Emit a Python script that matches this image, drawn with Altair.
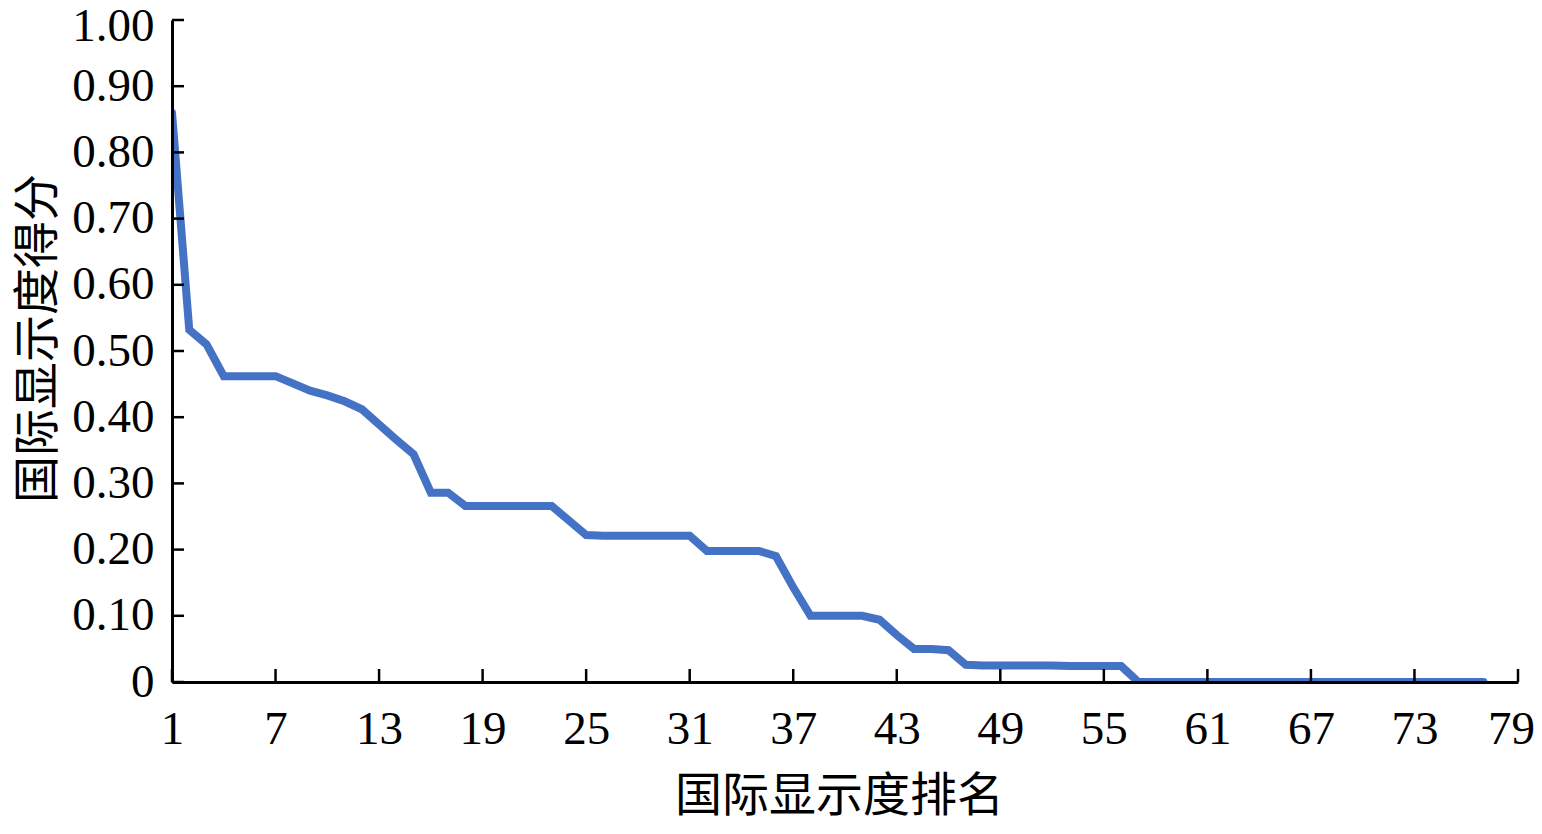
import altair as alt
import pandas as pd

ranks = list(range(1, 78))
scores = [
    0.86, 0.532, 0.51, 0.462, 0.462, 0.462, 0.462, 0.451, 0.44, 0.433,
    0.424, 0.412, 0.389, 0.366, 0.344, 0.286, 0.286, 0.266, 0.266, 0.266,
    0.266, 0.266, 0.266, 0.244, 0.222, 0.221, 0.221, 0.221, 0.221, 0.221,
    0.221, 0.198, 0.198, 0.198, 0.198, 0.19, 0.143, 0.1, 0.1, 0.1,
    0.1, 0.094, 0.071, 0.05, 0.05, 0.048, 0.026, 0.025, 0.025, 0.025,
    0.025, 0.025, 0.024, 0.024, 0.024, 0.024, 0, 0, 0, 0,
    0, 0, 0, 0, 0, 0, 0, 0, 0, 0,
    0, 0, 0, 0, 0, 0, 0,
]
x_ticks = [1, 7, 13, 19, 25, 31, 37, 43, 49, 55, 61, 67, 73, 79]
y_ticks = [0, 0.1, 0.2, 0.3, 0.4, 0.5, 0.6, 0.7, 0.8, 0.9, 1.0]

df = pd.DataFrame({"rank": ranks, "score": scores})

x_scale = alt.Scale(domain=[1, 79], nice=False, zero=False)
y_scale = alt.Scale(domain=[0, 1], nice=False)

LABEL_FONT = "Liberation Serif"
TITLE_FONT = "Noto Sans CJK SC"

x_axis = alt.Axis(values=x_ticks, title="国际显示度排名", grid=False,
                  tickSize=0, labelPadding=24, titlePadding=21, titleX=667,
                  labelOffset={"condition": {"test": "datum.value == 79", "value": -7}, "value": 0},
                  domainColor="black", domainWidth=3,
                  labelFont=LABEL_FONT, labelFontSize=47, labelColor="black",
                  titleFont=TITLE_FONT, titleFontSize=47, titleFontWeight="normal",
                  titleColor="black", zindex=1, labelFlush=False)
y_axis = alt.Axis(values=y_ticks, title="国际显示度得分", grid=False,
                  tickSize=0, labelPadding=18, titlePadding=9, titleY=318,
                  labelExpr="datum.value == 0 ? '0' : format(datum.value, '.2f')",
                  labelOffset={"condition": {"test": "datum.value == 1", "value": 6}, "value": 0},
                  domainColor="black", domainWidth=3,
                  labelFont=LABEL_FONT, labelFontSize=47, labelColor="black",
                  titleFont=TITLE_FONT, titleFontSize=47, titleFontWeight="normal",
                  titleColor="black", zindex=1, labelFlush=False)

line = alt.Chart(df).mark_line(
    color="#4472C4", strokeWidth=8, clip=True, strokeCap="round"
).encode(
    x=alt.X("rank:Q", scale=x_scale, axis=x_axis),
    y=alt.Y("score:Q", scale=y_scale, axis=y_axis),
)

xt = alt.Chart(pd.DataFrame({"t": x_ticks})).mark_rule(color="black", strokeWidth=2.5).encode(
    x=alt.X("t:Q", scale=x_scale, axis=x_axis),
    y=alt.value(662),
    y2=alt.value(649),
)
yt = alt.Chart(pd.DataFrame({"v": y_ticks})).mark_rule(color="black", strokeWidth=2.5).encode(
    y=alt.Y("v:Q", scale=y_scale, axis=y_axis),
    x=alt.value(0),
    x2=alt.value(12),
)

chart = alt.layer(line, xt, yt).properties(
    width=1346, height=662,
    autosize=alt.AutoSizeParams(type="none"),
    padding={"left": 164, "top": 12, "right": 16, "bottom": 144},
    background="white",
).configure_view(stroke=None)

chart.save("out.html", embed_options={"renderer": "svg", "actions": False})
